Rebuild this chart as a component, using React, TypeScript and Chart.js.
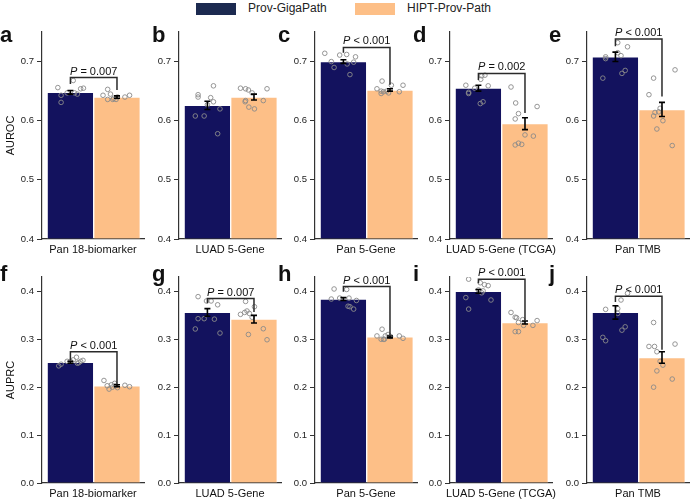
import React, { useEffect, useRef } from 'react';
import { Chart, registerables } from 'chart.js';

Chart.register(...registerables);

const FONT = "'Liberation Sans', Arial, Helvetica, sans-serif";

// ---------- data ----------
const seriesNames = ['Prov-GigaPath', 'HIPT-Prov-Path'];
const categories = ['Pan 18-biomarker', 'LUAD 5-Gene', 'Pan 5-Gene', 'LUAD 5-Gene (TCGA)', 'Pan TMB'];
const topLetters = ['a', 'b', 'c', 'd', 'e'];
const bottomLetters = ['f', 'g', 'h', 'i', 'j'];

const aurocTicks = [0.4, 0.5, 0.6, 0.7];
const auprcTicks = [0.0, 0.1, 0.2, 0.3, 0.4];

const aurocGiga = [0.648, 0.626, 0.700, 0.655, 0.708];
const aurocHipt = [0.640, 0.640, 0.652, 0.595, 0.619];
const aurocGigaErr = [0.003, 0.007, 0.003, 0.005, 0.008];
const aurocHiptErr = [0.002, 0.005, 0.002, 0.010, 0.012];

const auprcGiga = [0.252, 0.356, 0.384, 0.400, 0.356];
const auprcHipt = [0.203, 0.342, 0.305, 0.335, 0.262];
const auprcGigaErr = [0.002, 0.008, 0.003, 0.004, 0.014];
const auprcHiptErr = [0.002, 0.008, 0.002, 0.003, 0.012];

// individual runs (values) and their horizontal jitter inside the bar
const aurocGigaPts = [
  [0.656, 0.643, 0.631, 0.647, 0.668, 0.647, 0.645, 0.654, 0.655],
  [0.644, 0.640, 0.659, 0.608, 0.608, 0.639, 0.632, 0.620, 0.578, 0.627],
  [0.714, 0.700, 0.690, 0.711, 0.712, 0.696, 0.708, 0.678, 0.699],
  [0.660, 0.646, 0.655, 0.670, 0.676, 0.677, 0.659, 0.629, 0.632, 0.648],
  [0.672, 0.705, 0.708, 0.732, 0.725, 0.710, 0.685, 0.680, 0.715],
];
const aurocGigaJit = [
  [-0.27, -0.2, -0.2, -0.07, 0.06, 0.09, 0.15, 0.22, 0.28],
  [-0.2, -0.2, 0.13, -0.07, -0.26, 0.07, 0.13, 0.27, 0.22, 0.0],
  [-0.4, -0.26, -0.2, -0.08, 0.07, 0.08, 0.26, 0.14, 0.22],
  [-0.27, -0.21, -0.08, 0.05, 0.07, 0.14, 0.21, 0.04, 0.1, -0.21],
  [-0.27, -0.21, -0.21, 0.05, 0.26, 0.12, 0.21, 0.14, 0.05],
];
const aurocHiptPts = [
  [0.653, 0.643, 0.636, 0.645, 0.636, 0.638, 0.636, 0.640, 0.640, 0.643],
  [0.655, 0.654, 0.652, 0.647, 0.634, 0.623, 0.620, 0.634, 0.654, 0.632],
  [0.667, 0.654, 0.650, 0.649, 0.650, 0.647, 0.646, 0.660, 0.649, 0.660],
  [0.657, 0.630, 0.612, 0.603, 0.624, 0.576, 0.574, 0.559, 0.562, 0.560],
  [0.672, 0.644, 0.608, 0.614, 0.615, 0.600, 0.586, 0.686, 0.558, 0.621],
];
const aurocHiptJit = [
  [-0.2, -0.3, -0.2, -0.14, -0.09, -0.07, -0.02, 0.01, 0.17, 0.27],
  [-0.29, -0.18, -0.12, -0.04, -0.18, -0.11, 0.01, 0.2, 0.28, -0.19],
  [-0.17, -0.28, -0.19, -0.14, -0.07, -0.03, -0.19, 0.03, 0.2, 0.28],
  [-0.3, -0.2, -0.14, -0.21, 0.26, 0.0, 0.18, -0.21, -0.14, -0.07],
  [-0.18, -0.28, -0.18, -0.15, -0.07, 0.02, -0.11, 0.28, 0.22, -0.04],
];

const auprcGigaPts = [
  [0.2445, 0.248, 0.254, 0.257, 0.2625, 0.251, 0.254, 0.256, 0.254, 0.250],
  [0.389, 0.3215, 0.343, 0.343, 0.380, 0.372, 0.342, 0.313, 0.380],
  [0.405, 0.384, 0.386, 0.404, 0.369, 0.386, 0.368, 0.363, 0.381],
  [0.4255, 0.387, 0.363, 0.418, 0.414, 0.412, 0.397, 0.401, 0.382, 0.403],
  [0.3625, 0.304, 0.297, 0.382, 0.396, 0.364, 0.354, 0.326, 0.319],
];
const auprcGigaJit = [
  [-0.25, -0.2, -0.07, 0.06, 0.13, 0.18, 0.22, 0.27, 0.0, 0.15],
  [-0.2, -0.26, -0.2, -0.07, 0.08, 0.22, 0.15, 0.27, -0.02],
  [-0.2, -0.26, -0.08, 0.07, 0.1, 0.12, 0.14, 0.22, 0.28],
  [-0.21, -0.27, -0.21, 0.04, 0.13, 0.21, 0.07, 0.1, 0.27, 0.0],
  [-0.21, -0.27, -0.21, 0.12, 0.26, 0.05, 0.05, 0.21, 0.14],
];
const auprcHiptPts = [
  [0.214, 0.203, 0.196, 0.200, 0.208, 0.199, 0.205, 0.204, 0.201, 0.203],
  [0.379, 0.368, 0.352, 0.359, 0.354, 0.346, 0.310, 0.322, 0.299, 0.356],
  [0.321, 0.307, 0.300, 0.300, 0.310, 0.306, 0.307, 0.307, 0.302, 0.300],
  [0.356, 0.346, 0.345, 0.335, 0.341, 0.316, 0.316, 0.329, 0.329, 0.339],
  [0.335, 0.285, 0.285, 0.274, 0.254, 0.246, 0.234, 0.200, 0.217, 0.290],
];
const auprcHiptJit = [
  [-0.28, -0.21, -0.17, -0.1, -0.05, 0.01, -0.12, 0.17, 0.27, -0.03],
  [-0.18, 0.01, -0.29, -0.15, -0.1, -0.04, -0.12, 0.2, 0.28, -0.2],
  [-0.17, -0.28, -0.19, -0.12, -0.04, 0.01, -0.1, 0.2, 0.28, -0.14],
  [-0.3, -0.21, -0.18, -0.14, -0.05, -0.21, -0.14, -0.03, 0.17, 0.26],
  [-0.18, -0.28, -0.16, -0.11, -0.04, 0.02, -0.11, -0.18, 0.22, 0.28],
];

// significance: P text and bracket levels [left leg end, right leg end, top]
const aurocPText = ['= 0.007', null, '< 0.001', '= 0.002', '< 0.001'];
const aurocBracket = [
  [0.662, 0.652, 0.673],
  null,
  [0.715, 0.661, 0.724],
  [0.669, 0.613, 0.680],
  [0.726, 0.641, 0.738],
];
const auprcPText = ['< 0.001', '= 0.007', '< 0.001', '< 0.001', '< 0.001'];
const auprcBracket = [
  [0.255, 0.206, 0.274],
  [0.375, 0.357, 0.385],
  [0.399, 0.308, 0.410],
  [0.417, 0.339, 0.4255],
  [0.378, 0.278, 0.390],
];

// ---------- styles / layout ----------
const DARK = '#13125e';
const ORANGE = '#fdbf87';
const LEGEND_DARK = '#1c2a50';
const AXIS_X = [42, 179, 315, 450, 587];
const LETTER_X = [0, 152, 278, 413, 549];
const ROWS = [
  { canvasTop: 22, height: 234, padTop: 10, xH: 17, min: 0.4, max: 0.75, letterTop: 24 },
  { canvasTop: 262, height: 238, padTop: 15, xH: 17, min: 0.0, max: 0.43, letterTop: 262.5 },
];

type PanelProps = {
  left: number; top: number; height: number; padTop: number; xH: number;
  min: number; max: number; ticks: number[]; yTitle: string | null;
  category: string; means: number[]; errs: number[];
  pts: number[][]; jits: number[][]; pText: string | null; bracket: number[] | null;
};

function Panel(p: PanelProps) {
  const ref = useRef<HTMLCanvasElement | null>(null);
  useEffect(() => {
    if (!ref.current) return;
    const points: { x: number; y: number }[] = [];
    p.pts.forEach((vals, g) => vals.forEach((v, k) => points.push({ x: g + p.jits[g][k], y: v })));

    const annot = {
      id: 'annot',
      afterDatasetsDraw(chart: any) {
        const { ctx, scales } = chart;
        const x = scales.x, y = scales.y;
        ctx.save();
        // error bars
        ctx.strokeStyle = '#000';
        ctx.lineWidth = 1.6;
        for (let i = 0; i < 2; i++) {
          const px = x.getPixelForValue(i);
          const lo = y.getPixelForValue(p.means[i] - p.errs[i]);
          const hi = y.getPixelForValue(p.means[i] + p.errs[i]);
          ctx.beginPath();
          ctx.moveTo(px, lo); ctx.lineTo(px, hi);
          ctx.moveTo(px - 3, lo); ctx.lineTo(px + 3, lo);
          ctx.moveTo(px - 3, hi); ctx.lineTo(px + 3, hi);
          ctx.stroke();
        }
        // bracket
        if (p.bracket && p.pText) {
          const [l, r, t] = p.bracket;
          const x0 = x.getPixelForValue(0), x1 = x.getPixelForValue(1);
          const yt = y.getPixelForValue(t);
          ctx.strokeStyle = '#2a2a2a';
          ctx.lineWidth = 1.5;
          ctx.beginPath();
          ctx.moveTo(x0, y.getPixelForValue(l));
          ctx.lineTo(x0, yt);
          ctx.lineTo(x1, yt);
          ctx.lineTo(x1, y.getPixelForValue(r));
          ctx.stroke();
          const rest = ' ' + p.pText;
          ctx.fillStyle = '#111';
          ctx.textBaseline = 'alphabetic';
          ctx.textAlign = 'left';
          ctx.font = `italic 11px ${FONT}`;
          const wP = ctx.measureText('P').width;
          ctx.font = `11px ${FONT}`;
          const wR = ctx.measureText(rest).width;
          const sx = (x0 + x1) / 2 - (wP + wR) / 2;
          const by = yt - 3;
          ctx.font = `italic 11px ${FONT}`;
          ctx.fillText('P', sx, by);
          ctx.font = `11px ${FONT}`;
          ctx.fillText(rest, sx + wP, by);
        }
        ctx.restore();
      },
      afterDraw(chart: any) {
        const { ctx, scales, chartArea } = chart;
        const x = scales.x;
        ctx.save();
        ctx.fillStyle = '#111';
        ctx.font = `11px ${FONT}`;
        ctx.textAlign = 'center';
        ctx.textBaseline = 'middle';
        ctx.fillText(p.category, (x.left + x.right) / 2, chartArea.bottom + 10.5);
        ctx.restore();
      },
    };

    const chart = new Chart(ref.current, {
      type: 'bar',
      data: {
        datasets: [
          {
            type: 'scatter',
            data: points,
            pointRadius: 2.3,
            pointBorderWidth: 0.9,
            pointBorderColor: '#8a8a8a',
            pointBackgroundColor: 'rgba(0,0,0,0)',
            order: 1,
          } as any,
          {
            type: 'bar',
            label: seriesNames.join(' / '),
            data: [{ x: 0, y: p.means[0] }, { x: 1, y: p.means[1] }],
            backgroundColor: [DARK, ORANGE],
            borderColor: 'rgba(255,255,255,0.45)',
            borderWidth: 1,
            barPercentage: 1,
            categoryPercentage: 1,
            base: p.min,
            order: 2,
          } as any,
        ],
      },
      options: {
        animation: false,
        responsive: false,
        events: [],
        layout: { padding: { top: p.padTop, right: 6, bottom: 0, left: 0 } },
        plugins: { legend: { display: false }, tooltip: { enabled: false } },
        scales: {
          x: {
            type: 'linear',
            min: -0.61,
            max: 1.58,
            offset: false,
            afterBuildTicks: (s: any) => { s.ticks = [{ value: 0 }, { value: 1 }]; },
            afterFit: (s: any) => { s.height = p.xH; },
            ticks: { display: false },
            grid: { display: false },
            border: { display: true, color: '#333', width: 1.2 },
            title: { display: false },
          },
          y: {
            type: 'linear',
            min: p.min,
            max: p.max,
            beginAtZero: false,
            afterBuildTicks: (s: any) => { s.ticks = p.ticks.map((v) => ({ value: v })); },
            afterFit: (s: any) => { s.width = 42; },
            ticks: {
              color: '#222',
              padding: 3,
              font: { family: FONT, size: 9.5 },
              callback: (v: any) => Number(v).toFixed(1),
            },
            grid: { display: true, drawOnChartArea: false, drawTicks: true, tickLength: 5, color: '#333', lineWidth: 1 },
            border: { display: true, color: '#333', width: 1.2 },
            title: {
              display: !!p.yTitle,
              text: p.yTitle || '',
              color: '#111',
              font: { family: FONT, size: 11 },
              padding: { top: 4, bottom: 0 },
            },
          },
        },
      } as any,
      plugins: [annot],
    });
    return () => chart.destroy();
  }, []);
  return (
    <canvas
      ref={ref}
      width={150}
      height={p.height}
      style={{ position: 'absolute', left: p.left, top: p.top, width: 150, height: p.height }}
    />
  );
}

export default function App() {
  const panels: React.ReactNode[] = [];
  const letters: React.ReactNode[] = [];
  for (let r = 0; r < 2; r++) {
    const row = ROWS[r];
    for (let c = 0; c < 5; c++) {
      const isTop = r === 0;
      panels.push(
        <Panel
          key={`p${r}${c}`}
          left={AXIS_X[c] - 42}
          top={row.canvasTop}
          height={row.height}
          padTop={row.padTop}
          xH={row.xH}
          min={row.min}
          max={row.max}
          ticks={isTop ? aurocTicks : auprcTicks}
          yTitle={c === 0 ? (isTop ? 'AUROC' : 'AUPRC') : null}
          category={categories[c]}
          means={isTop ? [aurocGiga[c], aurocHipt[c]] : [auprcGiga[c], auprcHipt[c]]}
          errs={isTop ? [aurocGigaErr[c], aurocHiptErr[c]] : [auprcGigaErr[c], auprcHiptErr[c]]}
          pts={isTop ? [aurocGigaPts[c], aurocHiptPts[c]] : [auprcGigaPts[c], auprcHiptPts[c]]}
          jits={isTop ? [aurocGigaJit[c], aurocHiptJit[c]] : [auprcGigaJit[c], auprcHiptJit[c]]}
          pText={isTop ? aurocPText[c] : auprcPText[c]}
          bracket={isTop ? aurocBracket[c] : auprcBracket[c]}
        />
      );
      letters.push(
        <div
          key={`l${r}${c}`}
          style={{
            position: 'absolute', left: LETTER_X[c], top: row.letterTop,
            font: `bold 22px ${FONT}`, lineHeight: '22px', color: '#111',
          }}
        >
          {isTop ? topLetters[c] : bottomLetters[c]}
        </div>
      );
    }
  }
  const legendText: React.CSSProperties = {
    position: 'absolute', top: 2, font: `12px ${FONT}`, lineHeight: '12px', color: '#222', whiteSpace: 'nowrap',
  };
  return (
    <div style={{ position: 'fixed', left: 0, top: 0, width: 690, height: 501, background: '#fff', overflow: 'hidden' }}>
      <div style={{ position: 'absolute', left: 196, top: 3, width: 40, height: 12, background: LEGEND_DARK }} />
      <div style={{ ...legendText, left: 248 }}>{seriesNames[0]}</div>
      <div style={{ position: 'absolute', left: 355, top: 3, width: 40, height: 12, background: ORANGE }} />
      <div style={{ ...legendText, left: 407 }}>{seriesNames[1]}</div>
      {panels}
      {letters}
    </div>
  );
}
